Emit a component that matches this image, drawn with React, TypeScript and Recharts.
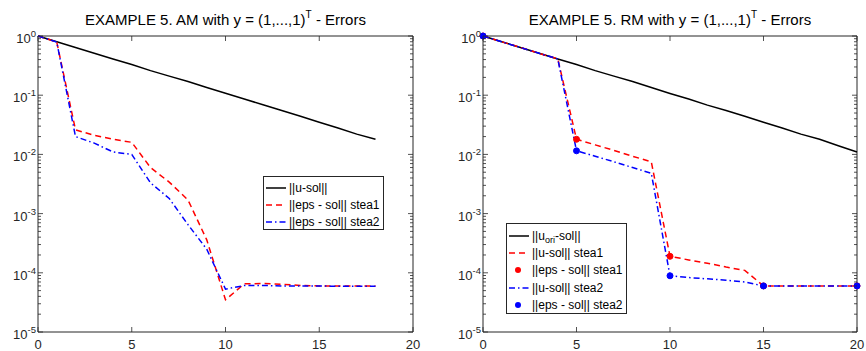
import React from 'react';
import { LineChart, Line, XAxis, YAxis, ReferenceArea, Legend } from 'recharts';

// AM panel (left)
const amX = [0, 1, 2, 3, 4, 5, 6, 7, 8, 9, 10, 11, 12, 13, 14, 15, 16, 17, 18];
const amUSol = [1, 0.8, 0.64, 0.51, 0.41, 0.33, 0.26, 0.21, 0.17, 0.135, 0.108, 0.086, 0.069, 0.055, 0.044, 0.035, 0.028, 0.022, 0.018];
const amEpsStea1 = [1, 0.79, 0.026, 0.021, 0.018, 0.016, 0.006, 0.0034, 0.0017, 0.00036, 0.000035, 0.000065, 0.000066, 0.000064, 0.000061, 0.00006, 0.00006, 0.00006, 0.00006];
const amEpsStea2 = [1, 0.79, 0.02, 0.0155, 0.011, 0.01, 0.0033, 0.0018, 0.00065, 0.00025, 0.000053, 0.000061, 0.000061, 0.00006, 0.00006, 0.00006, 0.000059, 0.000059, 0.000059];

// RM panel (right)
const rmX = [0, 1, 2, 3, 4, 5, 6, 7, 8, 9, 10, 11, 12, 13, 14, 15, 16, 17, 18, 19, 20];
const rmUOri = [1, 0.8, 0.64, 0.51, 0.41, 0.33, 0.26, 0.21, 0.17, 0.135, 0.107, 0.086, 0.068, 0.055, 0.044, 0.035, 0.028, 0.022, 0.018, 0.014, 0.011];
const rmUStea1 = [1, 0.8, 0.64, 0.51, 0.41, 0.018, 0.0145, 0.0117, 0.0093, 0.0075, 0.00019, 0.000165, 0.000145, 0.000125, 0.00011, 0.00006, 0.00006, 0.00006, 0.00006, 0.00006, 0.00006];
const rmUStea2 = [1, 0.8, 0.64, 0.51, 0.41, 0.0115, 0.0093, 0.0075, 0.006, 0.0048, 0.000089, 0.000083, 0.000079, 0.000075, 0.00007, 0.00006, 0.00006, 0.00006, 0.00006, 0.00006, 0.00006];
const rmEpsX = [0, 5, 10, 15, 20];
const rmEpsStea1 = [1, 0.018, 0.00019, 0.00006, 0.00006];
const rmEpsStea2 = [1, 0.0115, 0.000089, 0.00006, 0.00006];

const xTicks = [0, 5, 10, 15, 20];
const yMajor = [1e-5, 1e-4, 1e-3, 1e-2, 1e-1, 1];
const yTicks: number[] = [];
yMajor.forEach((p, i) => {
  yTicks.push(p);
  if (i < yMajor.length - 1) for (let m = 2; m <= 9; m++) yTicks.push(p * m);
});

const amData = amX.map((x, i) => ({ x, uSol: amUSol[i], s1: amEpsStea1[i], s2: amEpsStea2[i] }));
const rmData = rmX.map((x, i) => {
  const k = rmEpsX.indexOf(x);
  return {
    x,
    uOri: rmUOri[i],
    u1: rmUStea1[i],
    u2: rmUStea2[i],
    e1: k >= 0 ? rmEpsStea1[k] : null,
    e2: k >= 0 ? rmEpsStea2[k] : null,
  };
});

const AX = '#262626';
const FONT = '"Liberation Sans", Arial, sans-serif';
const TOP = 36;
const BOTTOM = 332;
const DASH = '6 4';
const DASHDOT = '6 3 1.5 3';

const yTick = (left: number, right: number) => (props: any) => {
  const { y, payload } = props;
  const lg = Math.log10(payload.value);
  const e = Math.round(lg);
  const major = Math.abs(lg - e) < 1e-6;
  const len = major ? 5 : 3;
  return (
    <g>
      <line x1={left} x2={left + len} y1={y} y2={y} stroke={AX} strokeWidth={0.8} />
      <line x1={right - len} x2={right} y1={y} y2={y} stroke={AX} strokeWidth={0.8} />
      {major && (
        <text x={left - 2} y={y + 7} textAnchor="end" fill={AX} fontSize={13} fontFamily={FONT}>
          <tspan>10</tspan>
          <tspan dy={-6} fontSize={9.5}>{String(e)}</tspan>
        </text>
      )}
    </g>
  );
};

const xTick = (props: any) => {
  const { x, payload } = props;
  return (
    <g>
      <line x1={x} x2={x} y1={BOTTOM} y2={BOTTOM - 5} stroke={AX} strokeWidth={0.8} />
      <line x1={x} x2={x} y1={TOP} y2={TOP + 5} stroke={AX} strokeWidth={0.8} />
      <text x={x} y={BOTTOM + 17} textAnchor="middle" fill={AX} fontSize={13} fontFamily={FONT}>
        {payload.value}
      </text>
    </g>
  );
};

type Row = { label: React.ReactNode; color: string; dash?: string; dot?: boolean };

const amRows: Row[] = [
  { label: '||u-sol||', color: '#000' },
  { label: '||eps - sol|| stea1', color: '#ff0000', dash: DASH },
  { label: '||eps - sol|| stea2', color: '#0000ff', dash: DASHDOT },
];
const rmRows: Row[] = [
  { label: <>||u<sub style={{ fontSize: 9, verticalAlign: -3, lineHeight: 0 }}>ori</sub>-sol||</>, color: '#000' },
  { label: '||u-sol|| stea1', color: '#ff0000', dash: DASH },
  { label: '||eps - sol|| stea1', color: '#ff0000', dot: true },
  { label: '||u-sol|| stea2', color: '#0000ff', dash: DASHDOT },
  { label: '||eps - sol|| stea2', color: '#0000ff', dot: true },
];

function LegendBox({ rows, rowH, padTop, width, height }: { rows: Row[]; rowH: number; padTop: number; width: number; height: number }) {
  return (
    <div style={{ width, height, boxSizing: 'border-box', border: `1px solid ${AX}`, background: '#fff', paddingTop: padTop, fontFamily: FONT, fontSize: 12, color: '#000' }}>
      {rows.map((r, i) => (
        <div key={i} style={{ display: 'flex', alignItems: 'center', height: rowH, whiteSpace: 'nowrap' }}>
          <svg width={22} height={10} style={{ marginLeft: 1, marginRight: 2, flex: 'none' }}>
            {r.dot ? (
              <circle cx={10} cy={5} r={3} fill={r.color} />
            ) : (
              <line x1={1} x2={21} y1={5} y2={5} stroke={r.color} strokeWidth={1.5} strokeDasharray={r.dash} />
            )}
          </svg>
          <span>{r.label}</span>
        </div>
      ))}
    </div>
  );
}

function Title({ left, width, method }: { left: number; width: number; method: string }) {
  return (
    <div style={{ position: 'absolute', left, top: 12, width, textAlign: 'center', fontFamily: FONT, fontSize: 15, lineHeight: '15px', color: '#000', whiteSpace: 'nowrap' }}>
      EXAMPLE 5. {method} with y = (1,...,1)<span style={{ fontSize: 10, position: 'relative', top: -7 }}>T</span> - Errors
    </div>
  );
}

export default function App() {
  return (
    <div style={{ position: 'absolute', left: 0, top: 0, width: 866, height: 351, background: '#fff', display: 'flex' }}>
      <div style={{ position: 'relative', width: 433, height: 351 }}>
        <Title left={38} width={375} method="AM" />
        <LineChart width={433} height={351} data={amData} margin={{ top: TOP, right: 20, bottom: 0, left: 0 }}>
          <XAxis dataKey="x" type="number" domain={[0, 20]} ticks={xTicks} height={19} axisLine={false} tickLine={false} tick={xTick} interval={0} />
          <YAxis type="number" scale="log" domain={[1e-5, 1]} ticks={yTicks} width={38} axisLine={false} tickLine={false} tick={yTick(38, 413)} interval={0} />
          <ReferenceArea x1={0} x2={20} y1={1e-5} y2={1} fill="none" fillOpacity={0} stroke={AX} strokeWidth={1} ifOverflow="visible" />
          <Line dataKey="uSol" stroke="#000" strokeWidth={1.5} dot={false} isAnimationActive={false} />
          <Line dataKey="s1" stroke="#ff0000" strokeWidth={1.5} strokeDasharray={DASH} dot={false} isAnimationActive={false} />
          <Line dataKey="s2" stroke="#0000ff" strokeWidth={1.5} strokeDasharray={DASHDOT} dot={false} isAnimationActive={false} />
          <Legend layout="horizontal" verticalAlign="middle" align="center" wrapperStyle={{ left: 263, top: 176, width: 121, height: 54 }}
            content={() => <LegendBox rows={amRows} rowH={17} padTop={2} width={121} height={54} />} />
        </LineChart>
      </div>
      <div style={{ position: 'relative', width: 433, height: 351 }}>
        <Title left={50} width={374} method="RM" />
        <LineChart width={433} height={351} data={rmData} margin={{ top: TOP, right: 9, bottom: 0, left: 0 }}>
          <XAxis dataKey="x" type="number" domain={[0, 20]} ticks={xTicks} height={19} axisLine={false} tickLine={false} tick={xTick} interval={0} />
          <YAxis type="number" scale="log" domain={[1e-5, 1]} ticks={yTicks} width={50} axisLine={false} tickLine={false} tick={yTick(50, 424)} interval={0} />
          <ReferenceArea x1={0} x2={20} y1={1e-5} y2={1} fill="none" fillOpacity={0} stroke={AX} strokeWidth={1} ifOverflow="visible" />
          <Line dataKey="uOri" stroke="#000" strokeWidth={1.5} dot={false} isAnimationActive={false} />
          <Line dataKey="u1" stroke="#ff0000" strokeWidth={1.5} strokeDasharray={DASH} dot={false} isAnimationActive={false} />
          <Line dataKey="e1" stroke="none" dot={{ r: 3, fill: '#ff0000', stroke: '#ff0000', strokeWidth: 1 }} isAnimationActive={false} />
          <Line dataKey="u2" stroke="#0000ff" strokeWidth={1.5} strokeDasharray={DASHDOT} dot={false} isAnimationActive={false} />
          <Line dataKey="e2" stroke="none" dot={{ r: 3, fill: '#0000ff', stroke: '#0000ff', strokeWidth: 1 }} isAnimationActive={false} />
          <Legend layout="horizontal" verticalAlign="middle" align="center" wrapperStyle={{ left: 73, top: 223, width: 121, height: 91 }}
            content={() => <LegendBox rows={rmRows} rowH={17.3} padTop={3} width={121} height={91} />} />
        </LineChart>
      </div>
    </div>
  );
}
